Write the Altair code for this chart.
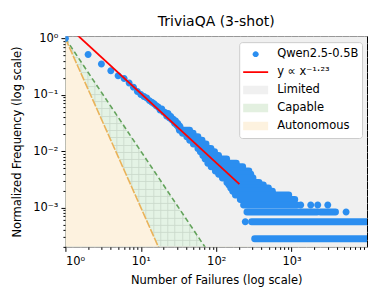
import altair as alt
import pandas as pd

# ---------------- data ----------------
N_MAX = 3600  # count at k = 1 (normalisation)

# individually visible points: number of failures k and count
single_k = list(range(1, 34))
single_count = [3600, 1879, 1263, 961, 783, 704, 581, 493, 414, 366, 337, 315, 284,
                267, 251, 231, 218, 193, 201, 177, 174, 151, 167, 139, 148, 128,
                133, 113, 123, 104, 111, 92, 100]

# dense horizontal runs of points (same count over a range of k)
run_count = [85, 75, 65, 56, 48, 40, 35, 30, 26, 22, 19, 16, 14, 12, 10, 9, 8, 7,
             6, 5, 4, 3, 3, 2, 1]
run_k_start = [32.6, 35.8, 40.8, 44.6, 49.9, 57.3, 61.7, 66.6, 71.4, 77.6, 85.8,
               97.6, 108, 121, 139, 148, 156, 166, 180, 209, 231, 256, 2413, 295, 324]
run_k_end = [44.3, 49.3, 57.1, 64.8, 73.2, 85.0, 94.9, 107.3, 137.4, 184.3, 224.2,
             271, 287, 307, 369, 421, 492, 556, 915, 1100, 1169, 2174, 3817, 10000, 10000]

# isolated tail points
iso_k = [243, 1321, 1793, 2221, 3016, 5278]
iso_count = [2, 4, 4, 4, 4, 3]

# fitted power law y ∝ x^-1.23 (end points)
fit_x = [1, 203]
fit_y = [1.8, 0.0026]

# region boundaries (straight lines in log-log space)
bound_x = [1, 10000]
capable_y = [1, 1e-8]       # slope -2
autonomous_y = [1, 1e-12]   # slope -3

x_dom = [1, 10000]
y_dom = [2e-4, 1.1]

series = ["Qwen2.5-0.5B", "y ∝ x⁻¹·²³", "Limited", "Capable", "Autonomous"]

# ---------------- styles ----------------
BLUE = "#2b8ef0"
RED = "#ff0000"
GRAY_FILL = "#f0f0f0"
GREEN_FILL = "#e3f0e0"
ORANGE_FILL = "#fdf2df"
GREEN_LINE = "#64a35c"
ORANGE_LINE = "#eab35a"
FONT = "DejaVu Sans"

circle_path = "M-0.24,0A0.24,0.24,0,1,0,0.24,0A0.24,0.24,0,1,0,-0.24,0Z"
line_path = "M-1,-0.065H1V0.065H-1Z"
patch_path = "M-1,-0.34H1V0.34H-1Z"

# ---------------- tables ----------------
pts = pd.DataFrame({
    "k": single_k + iso_k,
    "freq": [c / N_MAX for c in single_count + iso_count],
    "series": series[0],
})
runs = pd.DataFrame({
    "k0": run_k_start,
    "k1": run_k_end,
    "freq": [c / N_MAX for c in run_count],
})
fit = pd.DataFrame({"x": fit_x, "y": fit_y})
bounds = pd.DataFrame({
    "x": bound_x,
    "cap": capable_y,
    "aut": autonomous_y,
    "base": [y_dom[0]] * len(bound_x),
    "top": [y_dom[1]] * len(bound_x),
})

x_ticks = [m * 10 ** e for e in range(0, 4) for m in range(1, 10)]
y_ticks = [1, 0.1, 0.01, 0.001] + [m * 10.0 ** e for e in range(-4, 0)
                                   for m in range(2, 10) if m * 10.0 ** e >= 2e-4]

x_scale = alt.Scale(type="log", domain=x_dom, nice=False)
y_scale = alt.Scale(type="log", domain=y_dom, nice=False)

x_axis = alt.Axis(
    title="Number of Failures (log scale)",
    values=x_ticks,
    labelExpr="datum.value == 1 ? '10⁰' : datum.value == 10 ? '10¹' : datum.value == 100 ? '10²' : datum.value == 1000 ? '10³' : ''",
    tickSize={"condition": {"test": "indexof([1,10,100,1000], datum.value) >= 0", "value": 4.5}, "value": 2.5},
    grid=False, labelPadding=4, titlePadding=8,
)
y_axis = alt.Axis(
    title="Normalized Frequency (log scale)",
    values=y_ticks,
    labelExpr="datum.value == 1 ? '10⁰' : datum.value == 0.1 ? '10⁻¹' : datum.value == 0.01 ? '10⁻²' : datum.value == 0.001 ? '10⁻³' : ''",
    tickSize={"condition": {"test": "indexof([1,0.1,0.01,0.001], datum.value) >= 0", "value": 4.5}, "value": 2.5},
    grid=False,
    titlePadding=10,
)

X = lambda f: alt.X(f, type="quantitative", scale=x_scale, axis=x_axis)
Y = lambda f: alt.Y(f, type="quantitative", scale=y_scale, axis=y_axis)

# Limited: everything above the slope -2 boundary
lim_area = alt.Chart(bounds).mark_area(color=GRAY_FILL, clip=True).encode(
    x=X("x"), y=Y("cap"), y2="top")
# Capable: translucent so the hatch grid behind it shows through
cap_area = alt.Chart(bounds).mark_area(color="#4caf50", opacity=0.15, clip=True).encode(
    x=X("x"), y=Y("cap"), y2="base")
aut_area = alt.Chart(bounds).mark_area(color=ORANGE_FILL, clip=True).encode(
    x=X("x"), y=Y("aut"), y2="base")
cap_line = alt.Chart(bounds).mark_line(color=GREEN_LINE, strokeDash=[5, 3], strokeWidth=1.6, clip=True).encode(
    x=X("x"), y=Y("cap"))
aut_line = alt.Chart(bounds).mark_line(color=ORANGE_LINE, strokeDash=[8, 1.5], strokeWidth=1.6, clip=True).encode(
    x=X("x"), y=Y("aut"))

run_layer = alt.Chart(runs).mark_rule(color=BLUE, strokeWidth=7, strokeCap="round", clip=True).encode(
    x=X("k0"), x2="k1", y=Y("freq"))

legend_kw = dict(title=None, orient="top-right", offset=5.5, padding=3,
                 fillColor="white", strokeColor="#cccccc", cornerRadius=3,
                 symbolSize=625, clipHeight=18, rowPadding=0,
                 labelOffset=9, symbolOffset=1, symbolStrokeWidth=0,
                 labelFontSize=11.5, labelFont=FONT, labelColor="black")

pt_layer = alt.Chart(pts).mark_point(filled=True, size=850, opacity=1, clip=True).encode(
    x=X("k"), y=Y("freq"),
    color=alt.Color("series:N", scale=alt.Scale(domain=series,
                    range=[BLUE, RED, GRAY_FILL, GREEN_FILL, ORANGE_FILL]),
                    legend=alt.Legend(**legend_kw)),
    shape=alt.Shape("series:N", scale=alt.Scale(domain=series,
                    range=[circle_path, line_path, patch_path, patch_path, patch_path]),
                    legend=alt.Legend(**legend_kw)),
)

fit_layer = alt.Chart(fit).mark_line(color=RED, strokeWidth=1.8, clip=True).encode(
    x=X("x"), y=Y("y"))

main = alt.layer(lim_area, cap_area, aut_area, cap_line, aut_line,
                 run_layer, pt_layer, fit_layer)

# hatch grid for the "Capable" region (grid lines only, drawn behind the marks)
hatch_cells = pd.DataFrame({"gx": [0, 41.4], "gy": [0, 28.9]})
hatch_axis = dict(grid=True, labels=False, ticks=False, domain=False, title=None,
                  gridColor="#e0e0e0", gridWidth=0.8, minExtent=0, maxExtent=0)
hatch = alt.Chart(hatch_cells).mark_point(opacity=0).encode(
    x=alt.X("gx:Q", scale=alt.Scale(domain=[0, 41.4], nice=False, zero=False),
            axis=alt.Axis(tickCount=41, **hatch_axis)),
    y=alt.Y("gy:Q", scale=alt.Scale(domain=[0, 28.9], nice=False, zero=False),
            axis=alt.Axis(tickCount=29, **hatch_axis)),
)

chart = alt.layer(main, hatch).resolve_scale(
    x="independent", y="independent"
).properties(
    width=302, height=211,
    title=alt.TitleParams("TriviaQA (3-shot)", font=FONT, fontSize=14, fontWeight="normal",
                          color="black", offset=4),
    padding={"left": 3.5, "top": 6, "right": 4, "bottom": 0},
).configure_view(
    stroke="black", strokeWidth=1
).configure_axis(
    labelFont=FONT, titleFont=FONT, labelFontSize=11.5, titleFontSize=11.5,
    titleFontWeight="normal", labelColor="black", titleColor="black",
    tickColor="black", domainColor="black", domain=False, labelPadding=3,
)

chart.save("out.html", embed_options={"renderer": "svg", "actions": False})
